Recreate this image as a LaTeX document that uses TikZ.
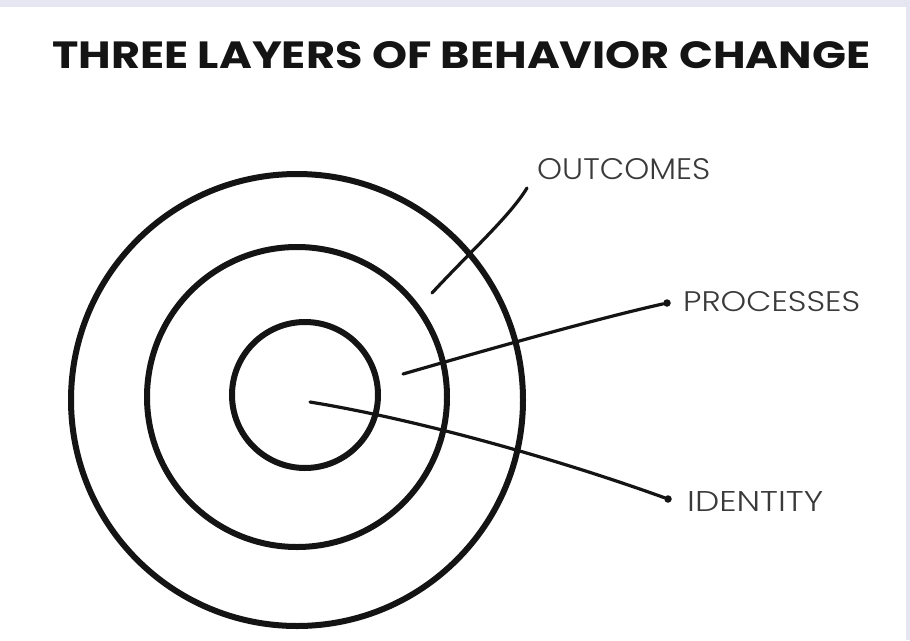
\documentclass[tikz,border=0pt]{standalone}
\usepackage{fontspec}
\usepackage{graphicx}
\newfontfamily\titlefont{Poppins}
\newfontfamily\lblfont{Poppins Light}
\usetikzlibrary{positioning}
\definecolor{ink}{HTML}{141414}
\definecolor{labelgray}{HTML}{3A3A3A}
\definecolor{frame}{HTML}{E6E6F2}

\begin{document}
\begin{tikzpicture}[x=1pt,y=-1pt,
    ring/.style={circle, draw=ink, line width=6pt, inner sep=0pt},
    leader/.style={draw=ink, line width=3.2pt, line cap=round},
    dot/.style={circle, fill=ink, inner sep=0pt, minimum size=7.5pt},
    lbl/.style={anchor=west, inner sep=0pt, text=labelgray}]
    % Page with the light band on top
    \useasboundingbox (0,0) rectangle (910,640);
    \fill[white] (0,0) rectangle (910,640);
    \fill[frame] (0,0) rectangle (910,7);
    \fill[frame] (906,0) rectangle (910,640);

    % Title
    \node[anchor=west, inner sep=0pt, text=ink] (title) at (52,55)
        {\resizebox{818pt}{27pt}{\titlefont\bfseries THREE LAYERS OF BEHAVIOR CHANGE}};

    % The three rings
    \node[ring, minimum size=452pt] (outer) at (297,400) {};
    \node[ring, minimum size=300pt] (middle) at (297,397) {};
    \node[ring, minimum size=146pt] (inner) at (305,395) {};

    % Leader ends
    \coordinate (oIn) at (432,293);
    \coordinate (oEnd) at (527,188);
    \coordinate (pIn) at (403,374);
    \coordinate (iIn) at (310,402);
    \node[dot] (pDot) at (667,303) {};
    \node[dot] (iDot) at (668,499) {};

    % Leaders
    \draw[leader] (oIn) .. controls (470,252) and (510,216) .. (oEnd);
    \draw[leader] (pIn) .. controls (500,346) and (600,318) .. (pDot);
    \draw[leader] (iIn) .. controls (420,420) and (560,460) .. (iDot);

    % Labels
    \node[lbl] (outcomes) at (537,169) {\resizebox{173pt}{21pt}{\lblfont OUTCOMES}};
    \node[lbl] (processes) at (683,302) {\resizebox{177pt}{20pt}{\lblfont PROCESSES}};
    \node[lbl] (identity) at (687,501) {\resizebox{136pt}{20pt}{\lblfont IDENTITY}};
\end{tikzpicture}
\end{document}
